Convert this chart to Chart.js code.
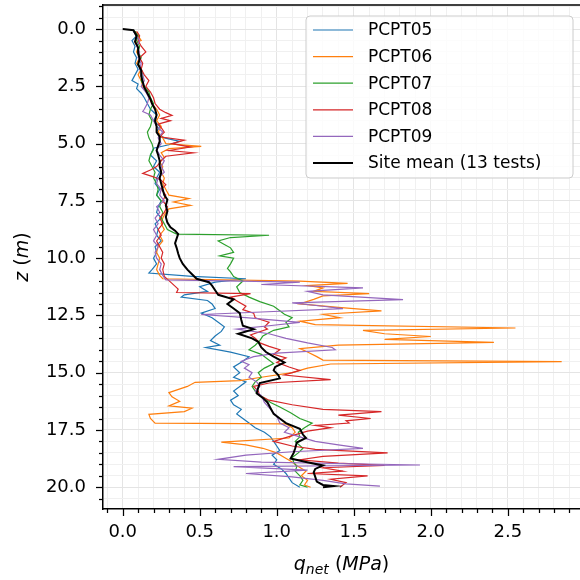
<!DOCTYPE html>
<html>
<head>
<meta charset="utf-8">
<script src="https://cdn.jsdelivr.net/npm/chart.js@4.4.1/dist/chart.umd.min.js"></script>
<style>
  html, body { margin: 0; padding: 0; background: #fff; }
  canvas { display: block; }
</style>
</head>
<body>
<canvas id="chart" width="580" height="580"></canvas>
<script>
// depth (m) and net cone resistance (MPa) for each test
const depth05 = [0.1,0.3,0.5,0.75,1.0,1.25,1.5,1.75,2.0,2.25,2.4,2.6,2.8,3.0,3.25,3.5,3.75,4.0,4.25,4.5,4.75,4.9,5.05,5.2,5.5,5.75,6.0,6.25,6.5,6.75,7.0,7.25,7.5,7.75,8.0,8.25,8.5,8.75,9.0,9.25,9.5,9.75,10.0,10.25,10.5,10.65,10.8,10.9,11.05,11.25,11.45,11.6,11.7,11.85,12.0,12.2,12.4,12.6,12.8,13.0,13.2,13.4,13.6,13.8,13.9,14.1,14.3,14.5,14.75,15.0,15.2,15.4,15.6,15.8,16.0,16.2,16.4,16.6,16.8,17.0,17.2,17.4,17.6,17.8,18.0,18.2,18.4,18.6,18.8,19.0,19.2,19.4,19.6,19.8,20.0];
const qnet05 = [0.07,0.09,0.06,0.08,0.07,0.09,0.08,0.10,0.08,0.06,0.10,0.09,0.12,0.14,0.16,0.18,0.22,0.20,0.24,0.22,0.27,0.37,0.30,0.20,0.18,0.22,0.20,0.24,0.22,0.21,0.24,0.22,0.25,0.23,0.22,0.25,0.21,0.23,0.22,0.25,0.21,0.22,0.20,0.22,0.19,0.17,0.45,0.80,0.60,0.50,0.55,0.40,0.38,0.55,0.58,0.60,0.51,0.58,0.62,0.66,0.64,0.60,0.57,0.63,0.54,0.70,0.82,0.78,0.72,0.76,0.72,0.80,0.76,0.72,0.75,0.70,0.72,0.77,0.74,0.78,0.82,0.86,0.92,0.96,0.98,1.00,1.02,0.97,1.00,0.98,1.03,1.06,1.08,1.10,1.15];

const depth06 = [0.1,0.3,0.5,0.6,0.8,1.0,1.25,1.5,1.75,2.0,2.25,2.5,2.75,3.0,3.25,3.5,3.75,4.0,4.25,4.5,4.75,5.0,5.12,5.22,5.4,5.6,5.8,6.0,6.25,6.5,6.75,7.0,7.25,7.4,7.55,7.7,7.85,8.0,8.25,8.5,8.75,9.0,9.25,9.5,9.75,10.0,10.25,10.5,10.75,10.9,11.0,11.1,11.2,11.3,11.45,11.55,11.65,11.8,12.0,12.15,12.3,12.45,12.6,12.75,12.9,13.05,13.15,13.3,13.42,13.55,13.68,13.8,13.95,14.1,14.3,14.45,14.52,14.62,14.8,15.0,15.2,15.35,15.42,15.6,15.87,16.05,16.25,16.45,16.55,16.7,16.82,17.0,17.2,17.23,17.4,17.6,17.85,18.03,18.15,18.3,18.5,18.7,18.9,19.1,19.3,19.5,19.7,19.9,20.0];
const qnet06 = [0.08,0.10,0.12,0.08,0.10,0.09,0.11,0.09,0.12,0.10,0.12,0.13,0.16,0.17,0.19,0.22,0.24,0.22,0.25,0.23,0.26,0.28,0.51,0.30,0.25,0.27,0.24,0.26,0.25,0.27,0.26,0.28,0.30,0.43,0.33,0.44,0.30,0.28,0.26,0.25,0.27,0.24,0.26,0.23,0.22,0.24,0.23,0.22,0.24,0.26,1.15,1.46,1.20,1.30,1.24,1.60,1.30,1.24,1.15,1.40,1.68,1.30,1.41,1.15,1.25,2.55,1.56,1.70,2.00,1.70,2.41,1.40,1.15,1.20,1.26,1.30,2.85,1.35,1.20,1.10,0.90,0.76,0.47,0.42,0.30,0.32,0.37,0.30,0.45,0.40,0.17,0.18,0.21,1.06,1.10,1.12,1.08,0.64,0.80,0.91,1.00,1.05,1.10,1.14,1.19,1.16,1.20,1.18,1.22];

const depth07 = [0.1,0.3,0.5,0.75,1.0,1.25,1.5,1.75,2.0,2.25,2.5,2.75,3.0,3.25,3.5,3.75,4.0,4.25,4.5,4.75,5.0,5.25,5.5,5.75,6.0,6.25,6.5,6.75,7.0,7.25,7.5,7.75,8.0,8.25,8.5,8.75,8.95,9.0,9.1,9.25,9.4,9.55,9.75,9.9,10.0,10.25,10.45,10.6,10.8,11.0,11.25,11.5,11.7,11.9,12.1,12.3,12.45,12.6,12.8,13.0,13.15,13.4,13.6,13.8,14.0,14.2,14.4,14.6,14.8,15.0,15.2,15.4,15.6,15.9,16.1,16.3,16.5,16.75,17.0,17.2,17.4,17.6,17.8,18.0,18.3,18.5,18.7,18.9,19.1,19.3,19.5,19.7,19.9,20.0];
const qnet07 = [0.08,0.10,0.09,0.11,0.10,0.12,0.10,0.12,0.13,0.12,0.14,0.17,0.18,0.20,0.18,0.17,0.19,0.18,0.16,0.17,0.19,0.20,0.18,0.17,0.19,0.21,0.20,0.22,0.23,0.22,0.25,0.24,0.26,0.25,0.27,0.29,0.35,0.95,0.70,0.62,0.66,0.70,0.72,0.63,0.72,0.70,0.68,0.70,0.72,0.78,0.74,0.76,0.82,0.89,0.98,1.02,1.05,1.10,1.06,1.08,0.98,0.91,0.89,0.86,0.82,0.90,0.94,0.98,0.92,0.88,0.90,0.86,0.84,0.87,0.92,0.96,1.02,1.09,1.15,1.23,1.18,1.14,1.15,1.12,1.17,1.14,1.10,1.11,1.13,1.12,1.15,1.17,1.15,1.20];

const depth08 = [0.1,0.3,0.5,0.75,1.0,1.25,1.5,1.75,2.0,2.25,2.5,2.75,3.0,3.25,3.5,3.65,3.77,3.9,4.0,4.15,4.3,4.5,4.7,4.85,5.0,5.15,5.3,5.4,5.55,5.75,6.0,6.15,6.3,6.45,6.6,6.8,7.0,7.25,7.5,7.75,8.0,8.25,8.5,8.75,9.0,9.25,9.5,9.75,10.0,10.25,10.5,10.8,11.1,11.35,11.5,11.55,11.7,11.9,12.1,12.25,12.4,12.6,12.8,13.0,13.1,13.35,13.5,13.7,13.85,14.0,14.2,14.35,14.55,14.75,14.9,15.1,15.3,15.45,15.6,15.8,16.0,16.2,16.4,16.6,16.7,16.85,17.0,17.1,17.2,17.3,17.4,17.55,17.75,18.0,18.2,18.35,18.5,18.65,18.8,18.95,19.05,19.15,19.3,19.4,19.5,19.65,19.8,20.0];
const qnet08 = [0.09,0.11,0.10,0.12,0.15,0.11,0.13,0.12,0.14,0.17,0.15,0.18,0.20,0.21,0.24,0.28,0.32,0.25,0.31,0.23,0.25,0.27,0.24,0.40,0.32,0.44,0.30,0.46,0.28,0.25,0.22,0.18,0.13,0.20,0.25,0.28,0.25,0.28,0.26,0.29,0.27,0.24,0.26,0.23,0.25,0.22,0.24,0.26,0.25,0.27,0.26,0.27,0.32,0.36,0.35,0.83,0.70,0.75,0.80,0.78,0.85,0.86,0.95,0.92,0.94,0.83,0.86,0.89,0.95,1.02,0.98,1.06,1.00,1.08,1.15,1.05,1.35,0.95,0.85,0.88,0.89,0.95,1.10,1.30,1.68,1.40,1.61,1.45,1.47,1.25,1.35,1.20,1.10,0.98,1.10,1.25,1.72,1.30,1.15,1.40,1.70,1.30,1.43,1.20,1.59,1.35,1.45,1.41];

const depth09 = [0.1,0.3,0.5,0.75,1.0,1.25,1.5,1.75,2.0,2.25,2.5,2.75,3.0,3.25,3.5,3.6,3.75,4.0,4.25,4.5,4.75,5.0,5.25,5.5,5.75,6.0,6.25,6.5,6.75,7.0,7.25,7.5,7.75,8.0,8.25,8.5,8.75,9.0,9.25,9.5,9.75,10.0,10.25,10.5,10.75,10.95,11.05,11.15,11.3,11.45,11.6,11.81,11.95,12.1,12.2,12.35,12.46,12.6,12.8,12.95,13.1,13.3,13.5,13.7,13.9,14.0,14.15,14.3,14.5,14.65,14.8,15.0,15.2,15.4,15.6,15.8,16.0,16.3,16.6,16.9,17.2,17.4,17.6,17.8,18.0,18.15,18.3,18.45,18.6,18.78,18.9,19.03,19.1,19.25,19.4,19.55,19.7,19.85,19.95];
const qnet09 = [0.07,0.09,0.11,0.09,0.11,0.10,0.12,0.11,0.13,0.14,0.12,0.15,0.17,0.16,0.14,0.13,0.18,0.20,0.22,0.26,0.23,0.25,0.22,0.24,0.27,0.25,0.27,0.23,0.22,0.25,0.24,0.27,0.22,0.24,0.21,0.23,0.20,0.22,0.20,0.23,0.21,0.22,0.25,0.24,0.26,0.28,1.15,0.90,1.56,1.20,1.30,1.82,1.10,1.30,1.43,0.90,0.51,0.80,1.15,0.95,0.74,0.95,1.06,1.20,1.36,1.38,1.00,0.85,0.77,0.82,0.79,0.84,0.82,0.87,0.89,0.86,0.90,0.92,0.96,1.00,1.02,1.08,1.05,1.15,1.25,1.40,1.56,1.10,0.80,0.62,0.90,1.93,0.72,1.20,0.80,1.10,1.30,1.45,1.67];

const depthMean = [0.0,0.05,0.3,0.55,0.8,1.05,1.3,1.55,1.8,2.05,2.3,2.55,2.8,3.05,3.25,3.5,3.75,4.0,4.25,4.5,4.7,4.9,5.1,5.3,5.5,5.75,6.0,6.25,6.5,6.75,7.0,7.25,7.45,7.7,7.95,8.2,8.45,8.65,8.8,8.95,9.15,9.35,9.55,9.8,10.0,10.25,10.5,10.7,10.9,11.05,11.2,11.4,11.6,11.8,12.0,12.2,12.4,12.7,12.95,13.1,13.3,13.5,13.65,13.9,14.1,14.3,14.55,14.75,14.9,15.1,15.25,15.45,15.65,15.9,16.1,16.3,16.55,16.8,17.0,17.2,17.45,17.7,17.85,18.05,18.3,18.5,18.75,18.9,19.05,19.2,19.35,19.55,19.75,19.9,19.95,20.0];
const qnetMean = [0.00,0.07,0.09,0.08,0.10,0.10,0.11,0.10,0.12,0.12,0.13,0.14,0.16,0.18,0.19,0.21,0.22,0.21,0.22,0.22,0.24,0.24,0.23,0.22,0.23,0.24,0.24,0.25,0.24,0.25,0.26,0.27,0.29,0.28,0.29,0.28,0.29,0.31,0.34,0.36,0.35,0.34,0.35,0.36,0.37,0.39,0.42,0.45,0.48,0.56,0.58,0.60,0.62,0.72,0.68,0.72,0.76,0.77,0.78,0.85,0.75,0.84,0.88,0.90,0.93,0.98,1.05,0.99,0.98,1.01,1.02,0.89,0.88,0.87,0.91,0.94,0.96,0.98,1.02,1.06,1.15,1.17,1.19,1.13,1.12,1.11,1.09,1.19,1.30,1.25,1.24,1.25,1.26,1.30,1.37,1.30];

const seriesLabels = ['PCPT05', 'PCPT06', 'PCPT07', 'PCPT08', 'PCPT09', 'Site mean (13 tests)'];
const seriesColors = ['#1f77b4', '#ff7f0e', '#2ca02c', '#d62728', '#9467bd', '#000000'];

const xTickValues = [0, 0.5, 1.0, 1.5, 2.0, 2.5];
const xTickLabels = ['0.0', '0.5', '1.0', '1.5', '2.0', '2.5'];
const yTickValues = [0, 2.5, 5, 7.5, 10, 12.5, 15, 17.5, 20];
const yTickLabels = ['0.0', '2.5', '5.0', '7.5', '10.0', '12.5', '15.0', '17.5', '20.0'];

const FONT = '"DejaVu Sans", sans-serif';

function toPoints(zs, qs) {
    return zs.map((z, i) => ({ x: qs[i], y: z }));
}

function findMajor(values, v) {
    return values.findIndex(t => Math.abs(t - v) < 1e-6);
}

function minorTicks(from, to, step) {
    const out = [];
    const n = Math.round((to - from) / step);
    for (let i = 0; i <= n; i++) out.push({ value: Math.round((from + i * step) * 1000) / 1000 });
    return out;
}

const allDepths = [depth05, depth06, depth07, depth08, depth09, depthMean];
const allQnet = [qnet05, qnet06, qnet07, qnet08, qnet09, qnetMean];

const datasets = seriesLabels.map((label, i) => ({
    label: label,
    data: toPoints(allDepths[i], allQnet[i]),
    borderColor: seriesColors[i],
    backgroundColor: seriesColors[i],
    borderWidth: i === 5 ? 2 : 1.2,
    pointRadius: 0,
    showLine: true,
    tension: 0,
    order: 5 - i
}));

const decorations = {
    id: 'decorations',
    afterDraw(chart) {
        const ctx = chart.ctx;
        const area = chart.chartArea;
        const xs = chart.scales.x;
        const ys = chart.scales.y;
        ctx.save();

        // tick marks, pointing out
        ctx.strokeStyle = '#000';
        ctx.lineWidth = 1.25;
        xs.ticks.forEach(t => {
            const px = Math.round(xs.getPixelForValue(t.value)) + 0.5;
            const len = findMajor(xTickValues, t.value) >= 0 ? 7 : 4;
            ctx.beginPath();
            ctx.moveTo(px, area.bottom);
            ctx.lineTo(px, area.bottom + len);
            ctx.stroke();
        });
        ys.ticks.forEach(t => {
            const py = Math.round(ys.getPixelForValue(t.value)) + 0.5;
            const len = findMajor(yTickValues, t.value) >= 0 ? 7 : 4;
            ctx.beginPath();
            ctx.moveTo(area.left, py);
            ctx.lineTo(area.left - len, py);
            ctx.stroke();
        });

        // top spine
        ctx.lineWidth = 1.5;
        ctx.beginPath();
        ctx.moveTo(area.left, area.top);
        ctx.lineTo(area.right, area.top);
        ctx.stroke();

        // axis titles
        ctx.fillStyle = '#000';
        ctx.textBaseline = 'alphabetic';
        const runs = (parts, x, y) => {
            let cx = x;
            parts.forEach(p => {
                ctx.font = p.font;
                ctx.fillText(p.text, cx, y + (p.dy || 0));
                cx += ctx.measureText(p.text).width;
            });
        };
        const measure = parts => parts.reduce((w, p) => { ctx.font = p.font; return w + ctx.measureText(p.text).width; }, 0);

        const xTitle = [
            { text: 'q', font: 'italic 19px ' + FONT },
            { text: 'net', font: 'italic 14px ' + FONT, dy: 4 },
            { text: ' (', font: '19px ' + FONT },
            { text: 'MPa', font: 'italic 19px ' + FONT },
            { text: ')', font: '19px ' + FONT }
        ];
        const cxTitle = (area.left + area.right) / 2;
        runs(xTitle, cxTitle - measure(xTitle) / 2, 570);

        const yTitle = [
            { text: 'z', font: 'italic 19px ' + FONT },
            { text: ' (', font: '19px ' + FONT },
            { text: 'm', font: 'italic 19px ' + FONT },
            { text: ')', font: '19px ' + FONT }
        ];
        ctx.save();
        ctx.translate(28, (area.top + area.bottom) / 2);
        ctx.rotate(-Math.PI / 2);
        runs(yTitle, -measure(yTitle) / 2, 0);
        ctx.restore();

        // legend box, upper right
        const bx = 306, by = 16, bw = 267, bh = 162, r = 4;
        ctx.beginPath();
        ctx.moveTo(bx + r, by);
        ctx.arcTo(bx + bw, by, bx + bw, by + bh, r);
        ctx.arcTo(bx + bw, by + bh, bx, by + bh, r);
        ctx.arcTo(bx, by + bh, bx, by, r);
        ctx.arcTo(bx, by, bx + bw, by, r);
        ctx.closePath();
        ctx.fillStyle = 'rgba(255,255,255,0.8)';
        ctx.fill();
        ctx.strokeStyle = '#cccccc';
        ctx.lineWidth = 1;
        ctx.stroke();

        ctx.font = '17px ' + FONT;
        ctx.textBaseline = 'middle';
        seriesLabels.forEach((label, i) => {
            const cy = 30 + i * 26.6;
            ctx.strokeStyle = seriesColors[i];
            ctx.lineWidth = i === 5 ? 2 : 1.2;
            ctx.beginPath();
            ctx.moveTo(313, cy);
            ctx.lineTo(353, cy);
            ctx.stroke();
            ctx.fillStyle = '#000';
            ctx.fillText(label, 368, cy + 1);
        });

        ctx.restore();
    }
};

new Chart(document.getElementById('chart'), {
    type: 'scatter',
    data: { datasets: datasets },
    options: {
        responsive: false,
        animation: false,
        devicePixelRatio: 1,
        layout: { padding: { left: 0, right: 0, top: 5, bottom: 0 } },
        plugins: {
            legend: { display: false },
            tooltip: { enabled: false }
        },
        scales: {
            x: {
                type: 'linear',
                min: -0.128,
                max: 2.969,
                afterBuildTicks: s => { s.ticks = minorTicks(-0.1, 2.9, 0.1); },
                afterFit: s => { s.height = 71; s.paddingLeft = 0; s.paddingRight = 0; },
                ticks: {
                    autoSkip: false,
                    maxRotation: 0,
                    padding: 13,
                    color: '#000',
                    font: { family: FONT, size: 18 },
                    callback: v => { const k = findMajor(xTickValues, v); return k >= 0 ? xTickLabels[k] : ''; }
                },
                grid: {
                    drawTicks: false,
                    color: c => findMajor(xTickValues, c.tick.value) >= 0 ? '#e4e4e4' : '#f0f0f0',
                    lineWidth: 1
                },
                border: { display: true, color: '#000', width: 1.5 }
            },
            y: {
                type: 'linear',
                reverse: true,
                min: -1.05,
                max: 20.95,
                afterBuildTicks: s => { s.ticks = minorTicks(-1.0, 20.5, 0.5); },
                afterFit: s => { s.width = 103; s.paddingTop = 0; s.paddingBottom = 0; },
                ticks: {
                    autoSkip: false,
                    padding: 17,
                    color: '#000',
                    font: { family: FONT, size: 18 },
                    callback: v => { const k = findMajor(yTickValues, v); return k >= 0 ? yTickLabels[k] : ''; }
                },
                grid: {
                    drawTicks: false,
                    color: c => findMajor(yTickValues, c.tick.value) >= 0 ? '#e4e4e4' : '#f0f0f0',
                    lineWidth: 1
                },
                border: { display: true, color: '#000', width: 1.5 }
            }
        }
    },
    plugins: [decorations]
});
</script>
</body>
</html>
